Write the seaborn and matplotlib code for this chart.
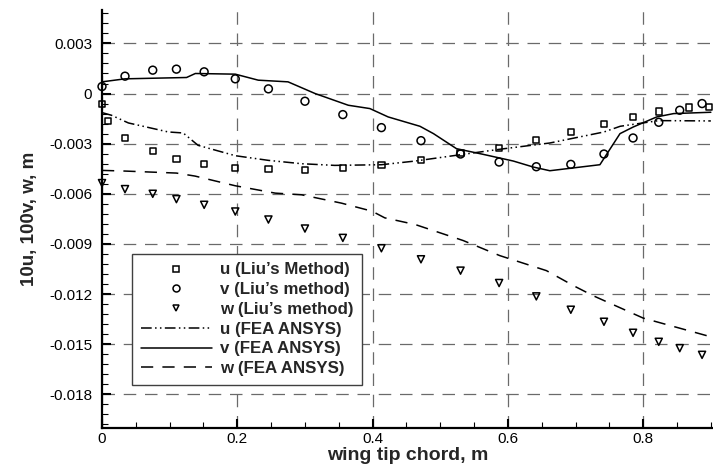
import matplotlib
matplotlib.use("Agg")
import matplotlib.pyplot as plt
import matplotlib.ticker as mticker
from matplotlib.lines import Line2D
import numpy as np
import pandas as pd
import seaborn as sns

# ---- data ----
u_liu_x = [0.0, 0.009, 0.034, 0.075, 0.11, 0.151, 0.197, 0.246, 0.30, 0.356, 0.413,
           0.4715, 0.53, 0.587, 0.642, 0.693, 0.742, 0.785, 0.823, 0.868, 0.897]
u_liu_y = [-0.00064, -0.00164, -0.00264, -0.00346, -0.0039, -0.0042, -0.00444, -0.00454,
           -0.00456, -0.00444, -0.00426, -0.0040, -0.00356, -0.00324, -0.0028, -0.0023,
           -0.00182, -0.0014, -0.00108, -0.00084, -0.0008]

v_liu_x = [0.0, 0.034, 0.075, 0.11, 0.151, 0.197, 0.246, 0.30, 0.356, 0.413,
           0.4715, 0.53, 0.587, 0.642, 0.693, 0.742, 0.785, 0.823, 0.854, 0.887]
v_liu_y = [0.00042, 0.00104, 0.0014, 0.00146, 0.0013, 0.00088, 0.00028, -0.00046,
           -0.00126, -0.00204, -0.00282, -0.00362, -0.0041, -0.00438, -0.00424,
           -0.00362, -0.00266, -0.00172, -0.0010, -0.0006]

w_liu_x = [0.0, 0.034, 0.075, 0.11, 0.151, 0.197, 0.246, 0.30, 0.356, 0.413,
           0.4715, 0.53, 0.587, 0.642, 0.693, 0.742, 0.785, 0.823, 0.854, 0.887]
w_liu_y = [-0.00536, -0.00572, -0.0060, -0.00632, -0.00666, -0.00706, -0.00754,
           -0.00808, -0.00864, -0.00926, -0.00992, -0.0106, -0.01134, -0.01214,
           -0.01294, -0.01366, -0.01432, -0.01486, -0.01524, -0.01564]

u_fea_x = [0.0, 0.014, 0.039, 0.098, 0.12, 0.142, 0.197, 0.246, 0.295, 0.344, 0.413,
           0.463, 0.53, 0.587, 0.662, 0.742, 0.766, 0.823, 0.90]
u_fea_y = [-0.00114, -0.0013, -0.00176, -0.0023, -0.00236, -0.0031, -0.00372, -0.0040,
           -0.0042, -0.0043, -0.00426, -0.00404, -0.00366, -0.00334, -0.00296, -0.0023,
           -0.00196, -0.00162, -0.00164]

v_fea_x = [0.0, 0.034, 0.125, 0.138, 0.197, 0.231, 0.275, 0.315, 0.364, 0.396, 0.423,
           0.47, 0.49, 0.524, 0.5635, 0.608, 0.6376, 0.662, 0.736, 0.7657, 0.7854,
           0.82, 0.845, 0.90]
v_fea_y = [0.0007, 0.00088, 0.00096, 0.0012, 0.00116, 0.0008, 0.0007, 0.0, -0.0007,
           -0.0009, -0.0014, -0.00196, -0.0024, -0.0033, -0.00364, -0.00404, -0.0044,
           -0.00462, -0.00426, -0.0024, -0.002, -0.0014, -0.0012, -0.00112]

w_fea_x = [0.0, 0.034, 0.11, 0.1375, 0.197, 0.256, 0.295, 0.354, 0.399, 0.418, 0.463,
           0.534, 0.588, 0.657, 0.697, 0.726, 0.80, 0.859, 0.90]
w_fea_y = [-0.0046, -0.00464, -0.00476, -0.00494, -0.00552, -0.00596, -0.00606,
           -0.00656, -0.00704, -0.00744, -0.00784, -0.0088, -0.0097, -0.0106, -0.0115,
           -0.0121, -0.01344, -0.0141, -0.01456]

x_ticks = [0, 0.2, 0.4, 0.6, 0.8]
y_ticks = [-0.018, -0.015, -0.012, -0.009, -0.006, -0.003, 0, 0.003]

labels = ["u (Liu\u2019s Method)", "v (Liu\u2019s method)", "w (Liu\u2019s method)",
          "u (FEA ANSYS)", "v (FEA ANSYS)", "w (FEA ANSYS)"]

# ---- style ----
sns.set_style("ticks")
plt.rcParams["font.family"] = ["Liberation Sans", "DejaVu Sans"]
plt.rcParams["axes.linewidth"] = 1.5

fig = plt.figure(figsize=(7.13, 4.70), dpi=100)
ax = fig.add_axes([102 / 713, 1 - 427.7 / 470, 1 - 102 / 713, (427.7 - 10) / 470])

lw = 1.1
ls_u = (0, (7, 2.2, 1, 2.2, 1, 2.2))
ls_w = (0, (8, 6))

sns.lineplot(x=u_fea_x, y=u_fea_y, ax=ax, color="black", lw=lw, linestyle=ls_u,
             estimator=None, sort=False, zorder=3)
sns.lineplot(x=v_fea_x, y=v_fea_y, ax=ax, color="black", lw=lw, linestyle="-",
             estimator=None, sort=False, zorder=3)
sns.lineplot(x=w_fea_x, y=w_fea_y, ax=ax, color="black", lw=lw, linestyle=ls_w,
             estimator=None, sort=False, zorder=3)

sns.scatterplot(x=u_liu_x, y=u_liu_y, ax=ax, marker="s", s=20, facecolor="none",
                edgecolor="black", linewidth=1.1, zorder=4, clip_on=False)
sns.scatterplot(x=v_liu_x, y=v_liu_y, ax=ax, marker="o", s=32, facecolor="none",
                edgecolor="black", linewidth=1.1, zorder=4, clip_on=False)
sns.scatterplot(x=w_liu_x, y=w_liu_y, ax=ax, marker="v", s=26, facecolor="none",
                edgecolor="black", linewidth=1.1, zorder=4, clip_on=False)

ax.set_xlim(0, (713 - 102) / 676.5)
ax.set_ylim(-0.020, 0.005)

ax.set_xticks(x_ticks)
ax.set_yticks(y_ticks)
ax.xaxis.set_minor_locator(mticker.MultipleLocator(0.05))
ax.yaxis.set_minor_locator(mticker.MultipleLocator(0.0006))
ax.xaxis.set_major_formatter(mticker.FuncFormatter(lambda v, p: "%g" % round(v, 6)))
ax.yaxis.set_major_formatter(mticker.FuncFormatter(lambda v, p: "%g" % round(v, 6)))

ax.tick_params(which="major", direction="in", length=6.5, width=1.5, labelsize=11,
               color="black", labelcolor="black")
ax.tick_params(which="minor", direction="in", length=4.3, width=0.8, color="black")
ax.tick_params(axis="y", which="major", pad=7)
ax.tick_params(axis="x", which="major", pad=3)

ax.grid(True, which="major", color="#6a6a6a", linewidth=0.9, linestyle=(0, (10, 7)))
ax.set_axisbelow(True)

for side in ["top", "right"]:
    ax.spines[side].set_visible(False)
for side in ["left", "bottom"]:
    ax.spines[side].set_color("black")
    ax.spines[side].set_linewidth(1.6)

ax.set_xlabel("wing tip chord, m", fontsize=14, fontweight="bold", labelpad=1)
ax.set_ylabel("10u, 100v, w, m", fontsize=13.5, fontweight="bold", labelpad=8)

handles = [
    Line2D([], [], ls="none", marker="s", ms=4.0, mfc="none", mec="black", mew=1.1),
    Line2D([], [], ls="none", marker="o", ms=5.0, mfc="none", mec="black", mew=1.1),
    Line2D([], [], ls="none", marker="v", ms=4.5, mfc="none", mec="black", mew=1.1),
    Line2D([], [], color="black", lw=lw, linestyle=ls_u),
    Line2D([], [], color="black", lw=lw, linestyle="-"),
    Line2D([], [], color="black", lw=lw, linestyle=ls_w),
]
leg = ax.legend(handles, labels, loc="upper left",
                bbox_to_anchor=((132.3 - 102) / 611, (427.7 - 254) / 417.7),
                borderaxespad=0, frameon=True, fancybox=False, framealpha=1,
                edgecolor="#404040", prop={"weight": "bold", "size": 12.2},
                handlelength=4.2, handletextpad=0.5, labelspacing=0.28,
                borderpad=0.5)
leg.get_frame().set_linewidth(1.0)

fig.savefig("out.png", dpi=100)
